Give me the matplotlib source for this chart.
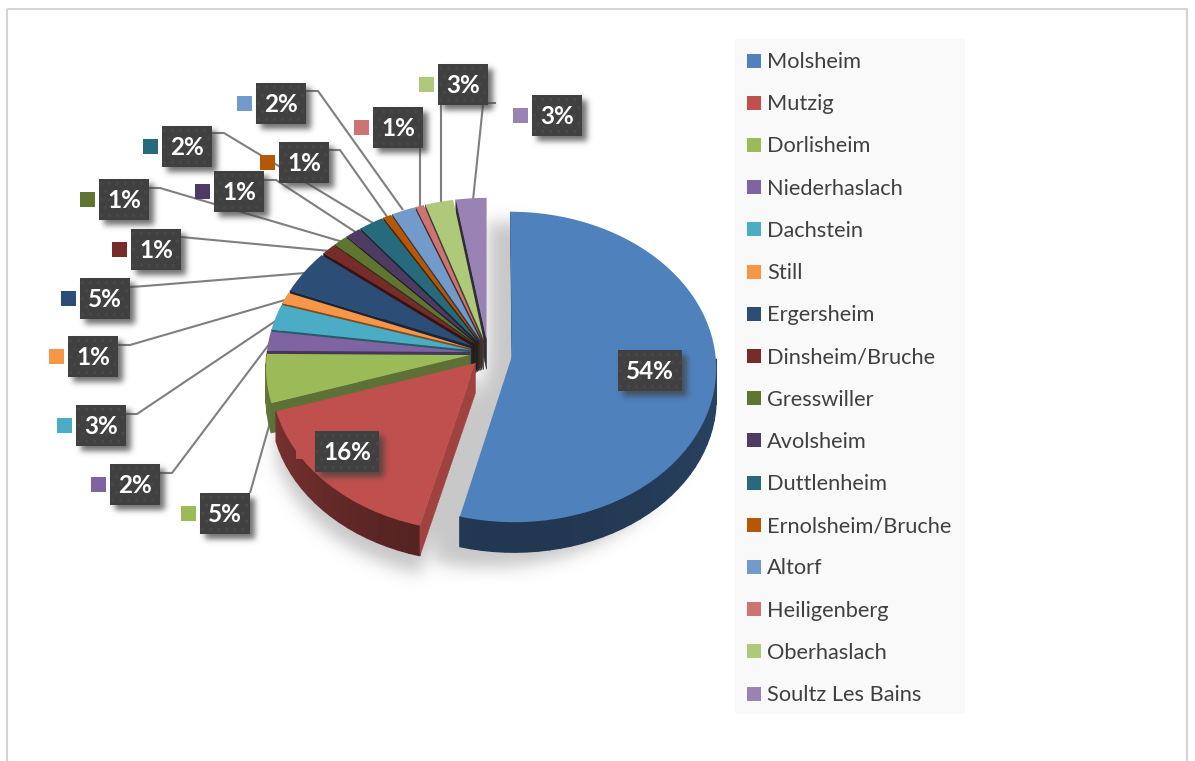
import numpy as np
import matplotlib
matplotlib.use("Agg")
import matplotlib.pyplot as plt
from matplotlib.patches import Rectangle, PathPatch
from matplotlib.path import Path
from matplotlib.transforms import Transform
from matplotlib.colors import to_rgb

communes = ["Molsheim", "Mutzig", "Dorlisheim", "Niederhaslach", "Dachstein", "Still",
            "Ergersheim", "Dinsheim/Bruche", "Gresswiller", "Avolsheim", "Duttlenheim",
            "Ernolsheim/Bruche", "Altorf", "Heiligenberg", "Oberhaslach", "Soultz Les Bains"]
shares = [53.6, 16.0, 5.0, 2.0, 2.7, 1.2, 4.6, 1.2, 1.2, 1.3, 2.1, 0.7, 2.0, 0.7, 2.4, 2.6]
pct_labels = ["54%", "16%", "5%", "2%", "3%", "1%", "5%", "1%", "1%", "1%", "2%", "1%", "2%", "1%", "3%", "3%"]
colors = ["#4F81BD", "#C0504D", "#9BBB59", "#8064A2", "#4BACC6", "#F79646", "#2C4D75", "#772C2A",
          "#5F7530", "#4D3B62", "#276A7C", "#B65708", "#729ACA", "#CD7371", "#AFC97A", "#9983B5"]

# layout (pixels): label box left/top, leader line routes
box_xy = [(618, 350), (315, 431), (200, 493), (110, 464), (76, 405), (68, 336), (80, 278), (131, 229),
          (99, 179), (214, 171), (162, 126), (279, 142), (256, 83), (373, 107), (438, 64), (532, 95)]
leaders = [None, None,
           [(250, 493), (275, 405)],
           [(160, 473), (172, 473), (270, 343)],
           [(126, 414), (137, 414), (277, 320)],
           [(118, 345), (130, 345), (285, 300)],
           [(130, 287), (145, 286), (305, 273)],
           [(181, 237), (330, 251)],
           [(149, 188), (160, 188), (343, 242)],
           [(264, 180), (276, 180), (357, 233)],
           [(212, 133), (224, 133), (373, 223)],
           [(329, 150), (340, 150), (388, 218)],
           [(306, 91), (318, 91), (403, 210)],
           [(420, 148), (420, 208)],
           [(441, 105), (441, 203)],
           [(483, 105), (473, 200)]]
explode = [0.12] + [0.09] * 15

W, H = 1195, 761
CX, CY, RX, RY, K, DEPTH = 488, 353, 203, 154, 0.075, 30


def project(x, y, d=0.0):
    s = 1 + K * y
    return CX + RX * x / s, CY - RY * y / s + d


class Persp(Transform):
    input_dims = output_dims = 2
    is_separable = False
    has_inverse = False

    def transform_non_affine(self, v):
        v = np.asarray(v, float)
        x, y = project(v[:, 0], v[:, 1])
        return np.column_stack([x, y])


def blur(color, sigma):
    rgb = to_rgb(color)
    pad = int(3 * sigma) + 1
    kx = np.arange(-pad, pad + 1)
    kern = np.exp(-kx ** 2 / (2 * sigma ** 2))
    kern /= kern.sum()

    def f(img, dpi):
        a = np.pad(img[:, :, 3], pad)
        a = np.apply_along_axis(lambda r: np.convolve(r, kern, mode="same"), 0, a)
        a = np.apply_along_axis(lambda r: np.convolve(r, kern, mode="same"), 1, a)
        out = np.zeros(a.shape + (4,))
        out[:, :, 0], out[:, :, 1], out[:, :, 2] = rgb
        out[:, :, 3] = a
        return out, -pad, -pad
    return f


plt.rcParams["font.family"] = ["Lato", "DejaVu Sans"]
fig = plt.figure(figsize=(W / 100, H / 100), dpi=100, facecolor="white")
ax = fig.add_axes([0, 0, 1, 1])

wedges, _ = ax.pie(shares, explode=explode, colors=colors, startangle=90, counterclock=False,
                   wedgeprops=dict(linewidth=0))
ax.set_aspect("auto")
ax.set_xlim(0, W)
ax.set_ylim(H, 0)
ax.axis("off")

P = Persp()
n = len(shares)
frac = np.cumsum([0] + shares) / np.sum(shares)
th_start = np.pi / 2 - 2 * np.pi * frac[:-1]
th_end = np.pi / 2 - 2 * np.pi * frac[1:]
mid = (th_start + th_end) / 2
off_x = np.array(explode) * np.cos(mid)
off_y = np.array(explode) * np.sin(mid)

# painter's order: back slices first, then down the left side to the front
order_z = {0: 10, 1: 60, 2: 50}
for rank, i in enumerate(range(n - 1, 2, -1)):
    order_z[i] = 12 + rank * 2


def shade(c, f):
    return tuple(min(1, v * f) for v in to_rgb(c))


# soft shadow under the two big slices
verts, codes = [], []
for i in (0, 1):
    ox, oy = (0, 0) if i == 0 else (off_x[i], off_y[i])
    th = np.linspace(th_start[i], th_end[i], 80)
    xs = np.r_[ox, ox + np.cos(th)]
    ys = np.r_[oy, oy + np.sin(th)]
    for d in np.arange(12, 50, 3):
        px, py = project(xs, ys, d)
        verts += list(zip(px, py)) + [(px[0], py[0])]
        codes += [Path.MOVETO] + [Path.LINETO] * (len(px) - 1) + [Path.CLOSEPOLY]
sh = PathPatch(Path(verts, codes), facecolor="#c8c8c8", edgecolor="none", zorder=1)
sh.set_agg_filter(blur("#c8c8c8", 8))
ax.add_patch(sh)

for i, w in enumerate(wedges):
    z = order_z[i]
    w.set_transform(P + ax.transData)
    w.set_zorder(z + 1)
    # rim (front-facing part only)
    th = np.linspace(th_start[i], th_end[i], max(4, int(abs(th_end[i] - th_start[i]) / 0.05)))
    for a, b in zip(th[:-1], th[1:]):
        if np.sin((a + b) / 2) > 0.0:
            continue
        xa, ya = off_x[i] + np.cos(a), off_y[i] + np.sin(a)
        xb, yb = off_x[i] + np.cos(b), off_y[i] + np.sin(b)
        p1, p2 = project(xa, ya), project(xb, yb)
        p3, p4 = project(xb, yb, DEPTH), project(xa, ya, DEPTH)
        col = shade(colors[i], 0.43 + 0.2 * min(0.0, np.cos((a + b) / 2)) ** 2
                    + 0.08 * max(0.0, np.cos((a + b) / 2)) ** 2)
        ax.fill(*zip(p1, p2, p3, p4), color=col, lw=1.0, zorder=z)
    # cut face on the start edge
    f = np.interp(frac[i], [0.54, 0.70, 1.0], [0.83, 0.6, 0.3])
    ex, ey = off_x[i] + np.cos(th_start[i]), off_y[i] + np.sin(th_start[i])
    q = [project(off_x[i], off_y[i]), project(ex, ey), project(ex, ey, DEPTH), project(off_x[i], off_y[i], DEPTH)]
    ax.fill(*zip(*q), color=shade(colors[i], f), lw=0.4, zorder=z + 0.5)

# leader lines
for route in leaders:
    if route is not None:
        ax.plot(*zip(*route), color="#7f7f7f", lw=1.5, zorder=5, solid_capstyle="butt")
ax.plot([488, 495], [103, 103], color="#7f7f7f", lw=1.5, zorder=5)

# data labels
for i, (bx, by) in enumerate(box_xy):
    bw = 64 if len(pct_labels[i]) == 3 else 50
    bh = 41
    s = Rectangle((bx + 5, by + 5), bw, bh, facecolor="#303030", edgecolor="none", alpha=0.75, zorder=70)
    s.set_agg_filter(blur("#404040", 3))
    ax.add_patch(s)
    ax.add_patch(Rectangle((bx, by), bw, bh, facecolor="#404040", edgecolor="none", zorder=71))
    gx, gy = np.meshgrid(np.arange(bx + 4, bx + bw, 8), np.arange(by + 4, by + bh, 8))
    gx = gx + (np.arange(gx.shape[0])[:, None] % 2) * 4 - 2
    ax.plot(gx.ravel(), gy.ravel(), ls="none", marker="o", ms=2.6, mew=0, color="#474747", zorder=71.5)
    ax.add_patch(Rectangle((bx - 19, by + 13), 15, 15, facecolor=colors[i], edgecolor="none", zorder=71))
    ax.text(bx + bw / 2, by + bh / 2 + 1, pct_labels[i], color="white", fontsize=17.5, fontweight="bold",
            ha="center", va="center", zorder=72)

# legend panel
ax.add_patch(Rectangle((735, 39), 230, 675, facecolor="#f9f9f9", edgecolor="none", zorder=2))
for i, name in enumerate(communes):
    y = 60.5 + i * 42.2
    ax.add_patch(Rectangle((747, y - 7), 14, 14, facecolor=colors[i], edgecolor="none", zorder=3))
    ax.text(767, y + 1.5, name, color="#404040", fontsize=15.7, ha="left", va="center", zorder=3)

# chart frame
ax.add_patch(Rectangle((7, 9), 1180, 800, facecolor="none", edgecolor="#d4d4d4", lw=1.5, zorder=0))

fig.savefig("out.png", dpi=100, facecolor="white")
